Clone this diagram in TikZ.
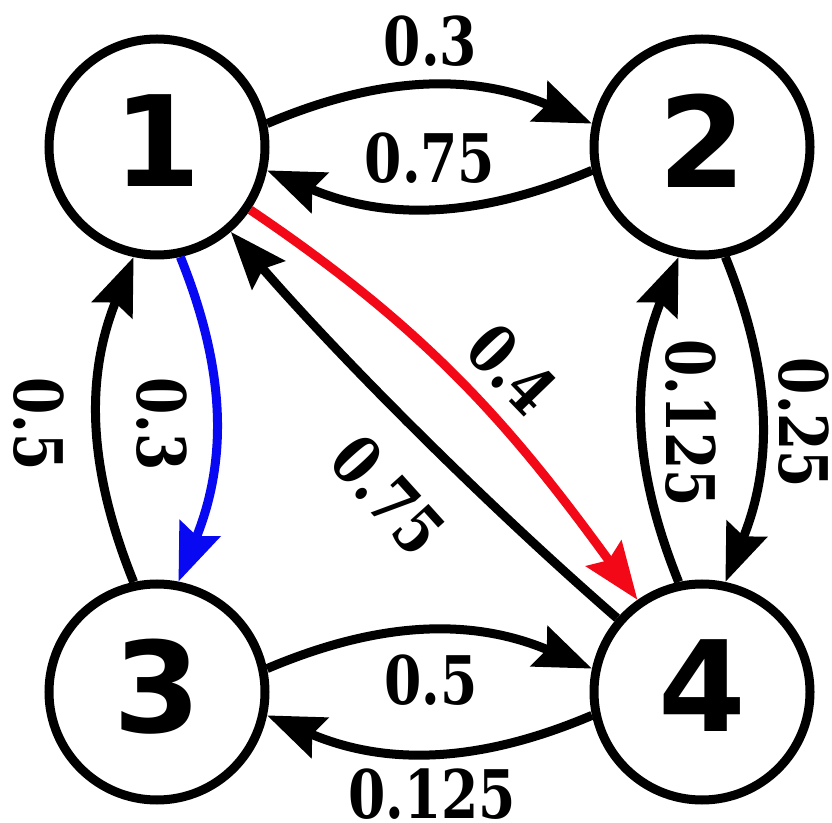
\documentclass[tikz,border=0pt]{standalone}
\usepackage{fontspec}
\newfontfamily\statefont{DejaVu Sans}
\newfontfamily\labfont[FakeStretch=0.8]{DejaVu Serif}
\usetikzlibrary{arrows.meta}
\definecolor{edgered}{RGB}{242,8,22}
\definecolor{edgeblue}{RGB}{8,8,242}
\begin{document}
\begin{tikzpicture}[x=1pt,y=1pt,
  state/.style={circle, draw=black, line width=9pt, minimum size=216pt, inner sep=0pt, outer sep=4.5pt, text depth=12pt,
    font=\statefont\bfseries\fontsize{126}{126}\selectfont},
  edge/.style={line width=9pt, -{Stealth[length=57pt,width=43pt,inset=8pt]}},
  lab/.style={inner sep=0pt, font=\labfont\bfseries\fontsize{67}{67}\selectfont},
]
\useasboundingbox (0,0) rectangle (832,822);
\node[state] (n1) at (157,675) {1};
\node[state] (n2) at (702,675) {2};
\node[state] (n3) at (157,130) {3};
\node[state] (n4) at (702,130) {4};

\draw[edge] (n1.12) to[out=23,in=157] (n2.168);
\draw[edge] (n2.192) to[out=203,in=337] (n1.348);
\draw[edge] (n3.12) to[out=23,in=157] (n4.168);
\draw[edge] (n4.192) to[out=203,in=337] (n3.348);
\draw[edge] (n3.102) to[out=112,in=248] (n1.258);
\draw[edge,color=edgeblue] (n1.282) to[out=292,in=68] (n3.79);
\draw[edge] (n4.102) to[out=112,in=248] (n2.258);
\draw[edge] (n2.282) to[out=292,in=68] (n4.78);
\draw[edge,color=edgered] (n1.326) to[out=326,in=126] (n4.125);
\draw[edge] (n4.139) to[out=139,in=311,looseness=0.8] (n1.311);

\node[lab] (l12) at (430.5,780.5) {0.3};
\node[lab] (l21) at (430,664) {0.75};
\node[lab] (l34) at (431,142) {0.5};
\node[lab] (l43) at (432,28) {0.125};
\node[lab,rotate=-90] (l31) at (39,398) {0.5};
\node[lab,rotate=-90] (l13) at (162,398) {0.3};
\node[lab,rotate=-90] (l42) at (691,399) {0.125};
\node[lab,rotate=-90] (l24) at (804,399) {0.25};
\node[lab,rotate=-46] (l14) at (512,453) {0.4};
\node[lab,rotate=-48] (l41) at (388,327) {0.75};
\end{tikzpicture}
\end{document}
